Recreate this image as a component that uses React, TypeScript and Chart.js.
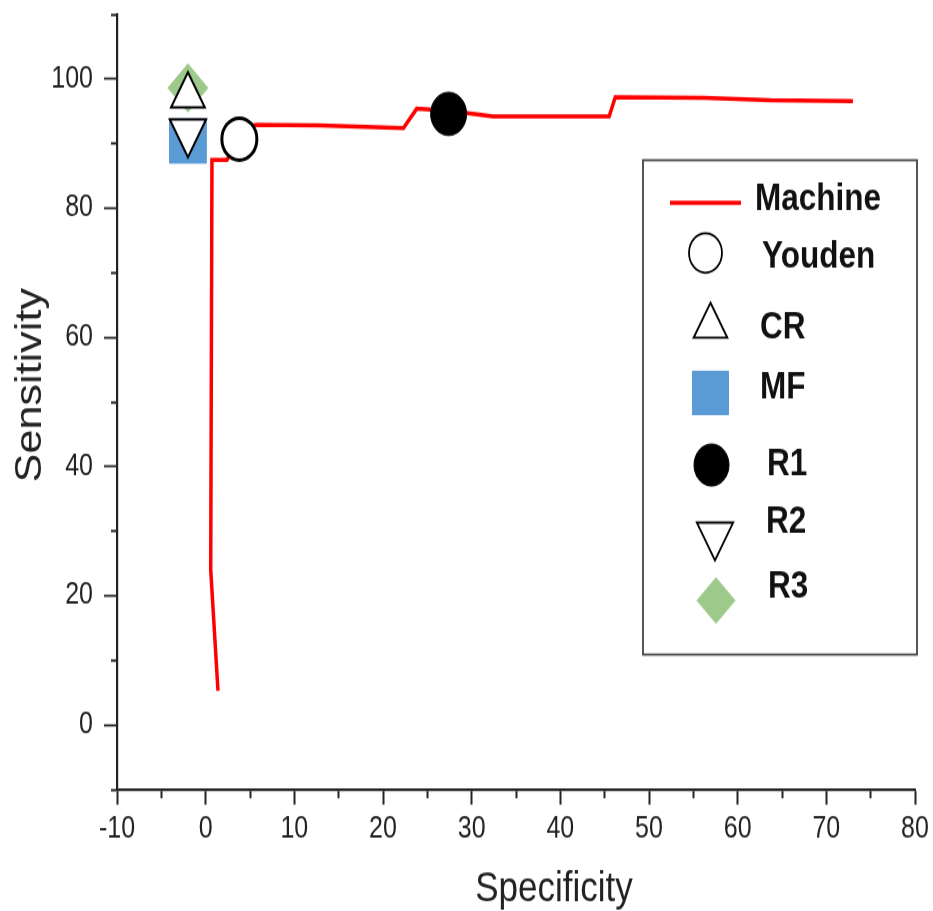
import React, { useEffect, useRef } from 'react';
import { Chart, registerables } from 'chart.js';

Chart.register(...registerables);

// ---------------- data ----------------
const machineX = [1.39, 0.57, 0.71, 2.4, 2.8, 4.3, 5.8, 12.9, 22.3, 23.8, 25.3, 27.4, 29.5, 32.4, 45.5, 46.2, 56.1, 63.7, 73.0];
const machineY = [5.3, 24.0, 87.5, 87.5, 88.5, 92.6, 92.9, 92.8, 92.4, 95.4, 95.3, 94.9, 94.7, 94.2, 94.2, 97.2, 97.1, 96.7, 96.6];

const markerLabels = ['Youden', 'CR', 'MF', 'R1', 'R2', 'R3'];
const markerX = [3.8, -2.0, -2.0, 27.4, -2.0, -2.0];
const markerY = [90.7, 97.4, 90.4, 94.6, 91.8, 98.6];

const xTickValues = [-10, -5, 0, 5, 10, 15, 20, 25, 30, 35, 40, 45, 50, 55, 60, 65, 70, 75, 80];
const xTickLabels = [-10, 0, 10, 20, 30, 40, 50, 60, 70, 80];
const yTickValues = [-10, 0, 10, 20, 30, 40, 50, 60, 70, 80, 90, 100, 110];
const yTickLabels = [0, 20, 40, 60, 80, 100];

const xTitle = 'Specificity';
const yTitle = 'Sensitivity';
const lineLabel = 'Machine';

// ---------------- styles ----------------
const FONT = "'Liberation Sans', Arial, Helvetica, sans-serif";
const STRETCH = 1.2; // reference is vertically stretched
const W = 933;
const H = 759;

const markerStyles = [
  { pointStyle: 'circle', radius: 17.5, rotation: 0, bg: '#ffffff', border: '#000000', bw: 3, order: 2 },
  { pointStyle: 'triangle', radius: 19.5, rotation: 0, bg: '#ffffff', border: '#000000', bw: 2, order: 1 },
  { pointStyle: 'rect', radius: 26, rotation: 0, bg: '#5b9bd5', border: '#5b9bd5', bw: 1, order: 3 },
  { pointStyle: 'circle', radius: 18, rotation: 0, bg: '#000000', border: '#000000', bw: 1, order: 2 },
  { pointStyle: 'triangle', radius: 21, rotation: 180, bg: '#ffffff', border: '#000000', bw: 2, order: 1 },
  { pointStyle: 'rectRot', radius: 20, rotation: 0, bg: '#9dc98a', border: '#9dc98a', bw: 1, order: 3 },
];

// legend layout (internal canvas coordinates)
const legendBox = { left: 643, top: 133.5, width: 274, height: 412 };
const legendRows = [
  { sx: 705, sy: 169, r: 0, tx: 755, ty: 166.7 },
  { sx: 705.5, sy: 210.8, r: 16.5, tx: 762, ty: 213.9 },
  { sx: 710.5, sy: 271.7, r: 19.5, tx: 760, ty: 273.3 },
  { sx: 710.5, sy: 327.5, r: 25.5, tx: 760, ty: 323.3 },
  { sx: 711.5, sy: 387.5, r: 17.5, tx: 767, ty: 387.5 },
  { sx: 715, sy: 446, r: 21, tx: 766, ty: 435.8 },
  { sx: 716, sy: 500.4, r: 19, tx: 768, ty: 488.9 },
];

function drawSymbol(ctx: CanvasRenderingContext2D, kind: string, x: number, y: number, r: number, rot: number, fill: string, stroke: string, lw: number) {
  ctx.beginPath();
  if (kind === 'circle') {
    ctx.arc(x, y, r, 0, Math.PI * 2);
  } else if (kind === 'triangle') {
    const a0 = (rot * Math.PI) / 180;
    for (let i = 0; i < 3; i++) {
      const a = a0 + (i * 2 * Math.PI) / 3;
      const px = x + Math.sin(a) * r;
      const py = y - Math.cos(a) * r;
      if (i === 0) ctx.moveTo(px, py);
      else ctx.lineTo(px, py);
    }
    ctx.closePath();
  } else if (kind === 'rect') {
    const s = Math.SQRT1_2 * r;
    ctx.rect(x - s, y - s, 2 * s, 2 * s);
  } else if (kind === 'rectRot') {
    ctx.moveTo(x - r, y);
    ctx.lineTo(x, y - r);
    ctx.lineTo(x + r, y);
    ctx.lineTo(x, y + r);
    ctx.closePath();
  }
  ctx.fillStyle = fill;
  ctx.fill();
  if (lw > 0) {
    ctx.lineWidth = lw;
    ctx.strokeStyle = stroke;
    ctx.stroke();
  }
}

const boxLegendPlugin = {
  id: 'boxLegend',
  afterDraw(chart: any) {
    const ctx: CanvasRenderingContext2D = chart.ctx;
    ctx.save();
    ctx.lineWidth = 1.8;
    ctx.strokeStyle = '#444444';
    ctx.strokeRect(legendBox.left, legendBox.top, legendBox.width, legendBox.height);
    const datasets = chart.data.datasets;
    ctx.font = `bold 31.5px ${FONT}`;
    ctx.textBaseline = 'middle';
    ctx.textAlign = 'left';
    datasets.forEach((ds: any, i: number) => {
      const row = legendRows[i];
      if (!row) return;
      if (ds.showLine) {
        ctx.beginPath();
        ctx.strokeStyle = ds.borderColor;
        ctx.lineWidth = ds.borderWidth;
        ctx.moveTo(670, row.sy);
        ctx.lineTo(741, row.sy);
        ctx.stroke();
      } else {
        drawSymbol(ctx, ds.pointStyle, row.sx, row.sy, row.r, ds.rotation || 0, ds.backgroundColor, ds.borderColor, Math.min(ds.borderWidth, 1.8));
      }
      ctx.fillStyle = '#111111';
      ctx.fillText(ds.label, row.tx, row.ty);
    });
    ctx.restore();
  },
};

const axisTitlePlugin = {
  id: 'axisTitles',
  afterDraw(chart: any) {
    const ctx: CanvasRenderingContext2D = chart.ctx;
    ctx.save();
    ctx.fillStyle = '#222222';
    ctx.textAlign = 'center';
    ctx.textBaseline = 'alphabetic';
    ctx.font = `35px ${FONT}`;
    ctx.fillText(xTitle, 554, 751);
    ctx.translate(41, 321);
    ctx.rotate(-Math.PI / 2);
    ctx.font = `36px ${FONT}`;
    ctx.fillText(yTitle, 0, 0);
    ctx.restore();
  },
};

export default function App() {
  const ref = useRef<HTMLCanvasElement | null>(null);

  useEffect(() => {
    if (!ref.current) return;
    const markerSets = markerLabels.map((label, i) => {
      const s = markerStyles[i];
      return {
        label,
        data: [{ x: markerX[i], y: markerY[i] }],
        pointStyle: s.pointStyle,
        pointRadius: s.radius,
        pointHoverRadius: s.radius,
        rotation: s.rotation,
        pointRotation: s.rotation,
        backgroundColor: s.bg,
        borderColor: s.border,
        borderWidth: s.bw,
        showLine: false,
        order: s.order,
      };
    });
    const chart = new Chart(ref.current, {
      type: 'scatter',
      data: {
        datasets: [
          {
            label: lineLabel,
            data: machineX.map((x, i) => ({ x, y: machineY[i] })),
            showLine: true,
            borderColor: '#ff0000',
            backgroundColor: '#ff0000',
            borderWidth: 3.5,
            pointRadius: 0,
            tension: 0,
            order: 10,
          } as any,
          ...(markerSets as any[]),
        ],
      },
      options: {
        responsive: false,
        animation: false,
        events: [],
        layout: { autoPadding: false, padding: { left: 0, top: 12, right: 18, bottom: 0 } },
        plugins: {
          legend: { display: false },
          tooltip: { enabled: false },
        },
        scales: {
          x: {
            type: 'linear',
            min: -10,
            max: 80,
            afterBuildTicks: (scale: any) => {
              scale.ticks = xTickValues.map((v) => ({ value: v }));
            },
            afterFit: (scale: any) => {
              scale.height = H - 658;
              scale.paddingLeft = 0;
              scale.paddingRight = 0;
            },
            border: { display: true, color: '#222222', width: 2.2 },
            grid: {
              drawOnChartArea: false,
              drawTicks: true,
              tickLength: 12.5,
              tickWidth: 2,
              tickColor: '#222222',
              tickBorderDash: (ctx: any) => (xTickLabels.includes(ctx.tick?.value) ? [] : [6, 100]),
            },
            ticks: {
              autoSkip: false,
              maxRotation: 0,
              padding: 6,
              color: '#222222',
              font: { family: FONT, size: 25 },
              callback: (v: any) => (xTickLabels.includes(Number(v)) ? String(v) : ''),
            },
            title: { display: false },
          },
          y: {
            type: 'linear',
            min: -10,
            max: 110,
            afterBuildTicks: (scale: any) => {
              scale.ticks = yTickValues.map((v) => ({ value: v }));
            },
            afterFit: (scale: any) => {
              scale.width = 117;
              scale.paddingTop = 0;
              scale.paddingBottom = 0;
            },
            border: { display: true, color: '#222222', width: 2.2 },
            grid: {
              drawOnChartArea: false,
              drawTicks: true,
              tickLength: 13,
              tickWidth: 1.8,
              tickColor: '#222222',
              tickBorderDash: (ctx: any) => (yTickLabels.includes(ctx.tick?.value) ? [] : [0, 7, 6, 100]),
            },
            ticks: {
              autoSkip: false,
              padding: 11,
              color: '#222222',
              font: { family: FONT, size: 25 },
              callback: (v: any) => (yTickLabels.includes(Number(v)) ? String(v) : ''),
            },
            title: { display: false },
          },
        },
      },
      plugins: [boxLegendPlugin, axisTitlePlugin],
    } as any);
    return () => chart.destroy();
  }, []);

  return (
    <div style={{ position: 'absolute', left: 0, top: 0, width: W, height: 911, overflow: 'hidden', background: '#ffffff' }}>
      <div style={{ width: W, height: H, transform: `scaleY(${STRETCH})`, transformOrigin: '0 0' }}>
        <canvas ref={ref} width={W} height={H} style={{ display: 'block', width: W, height: H }} />
      </div>
    </div>
  );
}
